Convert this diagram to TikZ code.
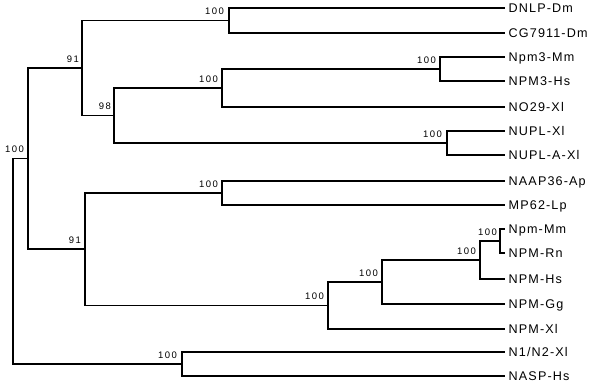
\documentclass[tikz,border=0pt]{standalone}
\usepackage{fontspec}
\setmainfont{Liberation Sans}
\newfontfamily\leaffont[LetterSpace=9]{Liberation Sans}
\newfontfamily\bsfont[LetterSpace=15]{Liberation Sans}
\usetikzlibrary{calc}
\begin{document}
\begin{tikzpicture}[x=1pt,y=-1pt,
  edge/.style={draw=black,line width=1.4pt},
  leaf/.style={anchor=west,inner xsep=3.5pt,inner ysep=0pt,text height=9pt,text depth=0pt,font=\leaffont\fontsize{12.6}{14}\selectfont},
  boot/.style={anchor=base east,inner sep=0pt,font=\bsfont\fontsize{9.5}{10}\selectfont}]
\useasboundingbox (0,0) rectangle (600,384);
% leaves
\node[leaf] (l1) at (505,8) {DNLP-Dm};
\node[leaf] (l2) at (505,33) {CG7911-Dm};
\node[leaf] (l3) at (505,57) {Npm3-Mm};
\node[leaf] (l4) at (505,81) {NPM3-Hs};
\node[leaf] (l5) at (505,107) {NO29-Xl};
\node[leaf] (l6) at (505,131) {NUPL-Xl};
\node[leaf] (l7) at (505,155) {NUPL-A-Xl};
\node[leaf] (l8) at (505,181) {NAAP36-Ap};
\node[leaf] (l9) at (505,205) {MP62-Lp};
\node[leaf] (l10) at (505,229) {Npm-Mm};
\node[leaf] (l11) at (505,253) {NPM-Rn};
\node[leaf] (l12) at (505,279) {NPM-Hs};
\node[leaf] (l13) at (505,304) {NPM-Gg};
\node[leaf] (l14) at (505,329) {NPM-Xl};
\node[leaf] (l15) at (505,352) {N1/N2-Xl};
\node[leaf] (l16) at (505,376) {NASP-Hs};
% internal nodes
\coordinate (nA) at (229,20.5);
\coordinate (nB) at (440,69);
\coordinate (nC) at (222,88);
\coordinate (nD) at (447,143);
\coordinate (nE) at (114,115.5);
\coordinate (nF) at (82,68);
\coordinate (nG) at (222,193);
\coordinate (nH) at (500,241);
\coordinate (nI) at (480,260);
\coordinate (nJ) at (382,282);
\coordinate (nK) at (328,305.5);
\coordinate (nL) at (85,249);
\coordinate (nM) at (28,158.5);
\coordinate (nN) at (182,364);
\coordinate (root) at (13,261);
% edges
\draw[edge] (nA) |- (l1.west); \draw[edge] (nA) |- (l2.west);
\draw[edge] (nB) |- (l3.west); \draw[edge] (nB) |- (l4.west);
\draw[edge] (nC) |- (nB); \draw[edge] (nC) |- (l5.west);
\draw[edge] (nD) |- (l6.west); \draw[edge] (nD) |- (l7.west);
\draw[edge] (nE) |- (nC); \draw[edge] (nE) |- (nD);
\draw[edge] (nF) |- (nA); \draw[edge] (nF) |- (nE);
\draw[edge] (nG) |- (l8.west); \draw[edge] (nG) |- (l9.west);
\draw[edge] (nH) |- (l10.west); \draw[edge] (nH) |- (l11.west);
\draw[edge] (nI) |- (nH); \draw[edge] (nI) |- (l12.west);
\draw[edge] (nJ) |- (nI); \draw[edge] (nJ) |- (l13.west);
\draw[edge] (nK) |- (nJ); \draw[edge] (nK) |- (l14.west);
\draw[edge] (nL) |- (nG); \draw[edge] (nL) |- (nK);
\draw[edge] (nM) |- (nF); \draw[edge] (nM) |- (nL);
\draw[edge] (nN) |- (l15.west); \draw[edge] (nN) |- (l16.west);
\draw[edge] (root) |- (nM); \draw[edge] (root) |- (nN);
% bootstrap values
\node[boot] (bA) at ($(nA)+(-5,-6)$) {100};
\node[boot] (bB) at ($(nB)+(-4,-6)$) {100};
\node[boot] (bC) at ($(nC)+(-4,-6)$) {100};
\node[boot] (bD) at ($(nD)+(-5,-6)$) {100};
\node[boot] (bE) at ($(nE)+(-3,-6)$) {98};
\node[boot] (bF) at ($(nF)+(-3,-6)$) {91};
\node[boot] (bG) at ($(nG)+(-4,-6)$) {100};
\node[boot] (bH) at ($(nH)+(-3,-6)$) {100};
\node[boot] (bI) at ($(nI)+(-4,-6)$) {100};
\node[boot] (bJ) at ($(nJ)+(-4,-6)$) {100};
\node[boot] (bK) at ($(nK)+(-4,-6)$) {100};
\node[boot] (bL) at ($(nL)+(-4,-6)$) {91};
\node[boot] (bM) at ($(nM)+(-4,-6)$) {100};
\node[boot] (bN) at ($(nN)+(-5,-6)$) {100};
\end{tikzpicture}
\end{document}
